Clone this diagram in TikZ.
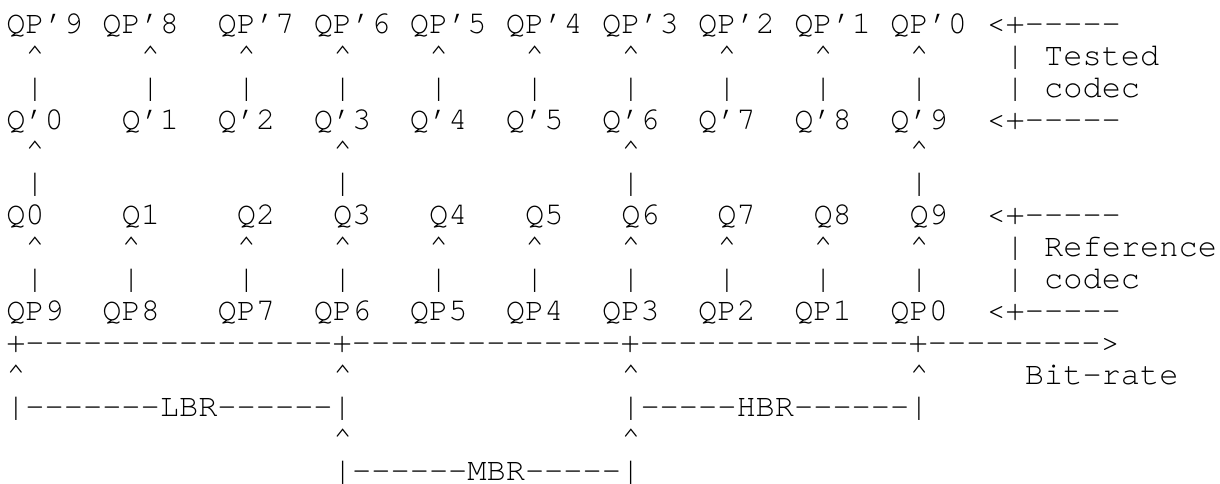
\documentclass[tikz,border=0pt]{standalone}
\usepackage{fontspec}
\setmonofont{texgyrecursor-regular.otf}
\begin{document}
\begin{tikzpicture}[x=14.415pt, y=-23.93pt, main node/.style={font=\ttfamily\fontsize{24pt}{24pt}\selectfont, inner sep=0pt, anchor=base west}, line node/.style={main node}]
\useasboundingbox (-4.5pt,1.07pt) rectangle (910.5pt,-361.18pt);
\begin{scope}[every node/.style={main node}]
\node (tp9) at (0,1) {QP’9};
\node (tp8) at (5,1) {QP’8};
\node (tp7) at (11,1) {QP’7};
\node (tp6) at (16,1) {QP’6};
\node (tp5) at (21,1) {QP’5};
\node (tp4) at (26,1) {QP’4};
\node (tp3) at (31,1) {QP’3};
\node (tp2) at (36,1) {QP’2};
\node (tp1) at (41,1) {QP’1};
\node (tp0) at (46,1) {QP’0};
\node (tq0) at (0,4) {Q’0};
\node (tq1) at (6,4) {Q’1};
\node (tq2) at (11,4) {Q’2};
\node (tq3) at (16,4) {Q’3};
\node (tq4) at (21,4) {Q’4};
\node (tq5) at (26,4) {Q’5};
\node (tq6) at (31,4) {Q’6};
\node (tq7) at (36,4) {Q’7};
\node (tq8) at (41,4) {Q’8};
\node (tq9) at (46,4) {Q’9};
\node (q0) at (0,7) {Q0};
\node (q1) at (6,7) {Q1};
\node (q2) at (12,7) {Q2};
\node (q3) at (17,7) {Q3};
\node (q4) at (22,7) {Q4};
\node (q5) at (27,7) {Q5};
\node (q6) at (32,7) {Q6};
\node (q7) at (37,7) {Q7};
\node (q8) at (42,7) {Q8};
\node (q9) at (47,7) {Q9};
\node (p9) at (0,10) {QP9};
\node (p8) at (5,10) {QP8};
\node (p7) at (11,10) {QP7};
\node (p6) at (16,10) {QP6};
\node (p5) at (21,10) {QP5};
\node (p4) at (26,10) {QP4};
\node (p3) at (31,10) {QP3};
\node (p2) at (36,10) {QP2};
\node (p1) at (41,10) {QP1};
\node (p0) at (46,10) {QP0};
%\node (v) at (,) {};
\node (tested) at (54,2) {Tested};
\node (tcodec) at (54,3) {codec};
\node (reference) at (54,8) {Reference};
\node (rcodec) at (54,9) {codec};
\node (bitrate) at (53,12) {Bit-rate};
\end{scope}
\begin{scope}[every node/.style={line node}]
\foreach \c in {1,7,12,17,22,27,32,37,42,47} {
  \node (tu\c) at (\c,2) {\textasciicircum};
  \node (tv\c) at (\c,3) {|};
}
\foreach \c in {1,17,32,47} {
  \node (mu\c) at (\c,5) {\textasciicircum};
  \node (mv\c) at (\c,6) {|};
}
\foreach \c in {1,6,12,17,22,27,32,37,42,47} {
  \node (ru\c) at (\c,8) {\textasciicircum};
  \node (rv\c) at (\c,9) {|};
}
\node (tb1) at (51,1) {<+-----};
\node (tb2) at (52,2) {|};
\node (tb3) at (52,3) {|};
\node (tb4) at (51,4) {<+-----};
\node (rb1) at (51,7) {<+-----};
\node (rb2) at (52,8) {|};
\node (rb3) at (52,9) {|};
\node (rb4) at (51,10) {<+-----};
\node (axis) at (0,11) {+----------------+--------------+--------------+--------->};
\foreach \c in {0,17,32,47}
  \node (au\c) at (\c,12) {\textasciicircum};
\node (lbr) at (0,13) {|-------LBR------|};
\node (hbr) at (32,13) {|-----HBR------|};
\node (bu17) at (17,14) {\textasciicircum};
\node (bu32) at (32,14) {\textasciicircum};
\node (mbr) at (17,15) {|------MBR-----|};
\end{scope}
\end{tikzpicture}
\end{document}
